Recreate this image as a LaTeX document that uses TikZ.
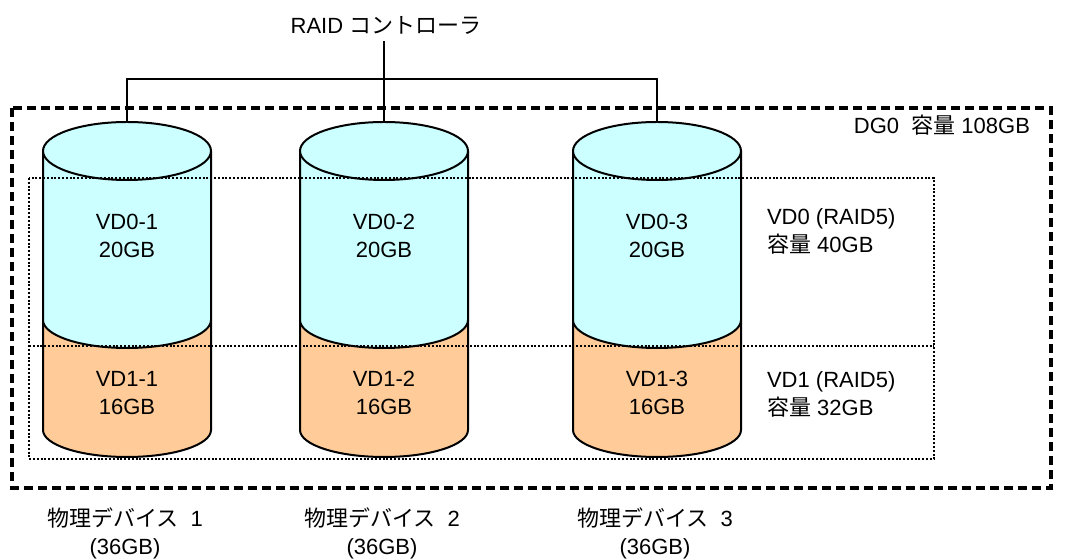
\documentclass[tikz,border=0pt]{standalone}
\usepackage{fontspec}
\setmainfont{Liberation Sans}
\newfontfamily\jp{Noto Sans CJK JP}
\usepackage{xcolor}
\usepackage{tikz}
\usetikzlibrary{positioning}
\definecolor{vdcyan}{HTML}{CCFFFF}
\definecolor{vdorange}{HTML}{FFCC99}

\begin{document}
\begin{tikzpicture}[
  x=0.5pt, y=-0.5pt,
  lbl/.style={align=center, font=\fontsize{11}{14}\selectfont},
  note/.style={align=left, font=\fontsize{11}{14}\selectfont},
  wire/.style={line width=0.9pt},
  disk/.style={draw=black, line width=1pt},
  dgbox/.style={line width=1.6pt, dash pattern=on 4.5pt off 2.5pt},
  vdbox/.style={line width=1.3pt, dash pattern=on 1pt off 0.9pt}
]
\useasboundingbox (0,0) rectangle (1067,560);

% disks
\foreach \i/\cx in {1/127, 2/384, 3/657} {
  \draw[disk, fill=vdorange] (\cx-84,320) -- (\cx-84,430)
    arc[start angle=180, end angle=0, x radius=84, y radius=27] -- (\cx+84,320);
  \draw[disk, fill=vdcyan] (\cx-84,151) -- (\cx-84,320)
    arc[start angle=180, end angle=0, x radius=84, y radius=28] -- (\cx+84,151);
  \draw[disk, fill=vdcyan] (\cx,151) ellipse [x radius=84, y radius=29];
  \coordinate (top\i) at (\cx,122);
  \node[lbl] (vd0\i) at (\cx,236) {VD0-\i\\20GB};
  \node[lbl] (vd1\i) at (\cx,393) {VD1-\i\\16GB};
  \node[lbl] (pd\i)  at (\cx-2,533) {{\jp 物理デバイス}\ \ \i\\(36GB)};
}

% virtual disks
\draw[vdbox] (29,178) rectangle (934,459);
\draw[vdbox] (29,346) -- (934,346);
\node[note, anchor=west] (vd0cap) at (760,231) {VD0 (RAID5)\\{\jp 容量} 40GB};
\node[note, anchor=west] (vd1cap) at (760,394) {VD1 (RAID5)\\{\jp 容量} 32GB};

% disk group
\draw[dgbox] (12,108) rectangle (1051,488);
\node[note, anchor=east] (dg) at (1037,125) {DG0\ \ {\jp 容量} 108GB};

% controller
\node[lbl] (ctrl) at (386,25) {RAID {\jp コントローラ}};
\coordinate (bus) at (384,79);
\draw[wire] (ctrl.south -| bus) -- (bus);
\draw[wire] (top1) |- (bus) -| (top3);
\draw[wire] (bus) -- (top2);
\end{tikzpicture}
\end{document}
